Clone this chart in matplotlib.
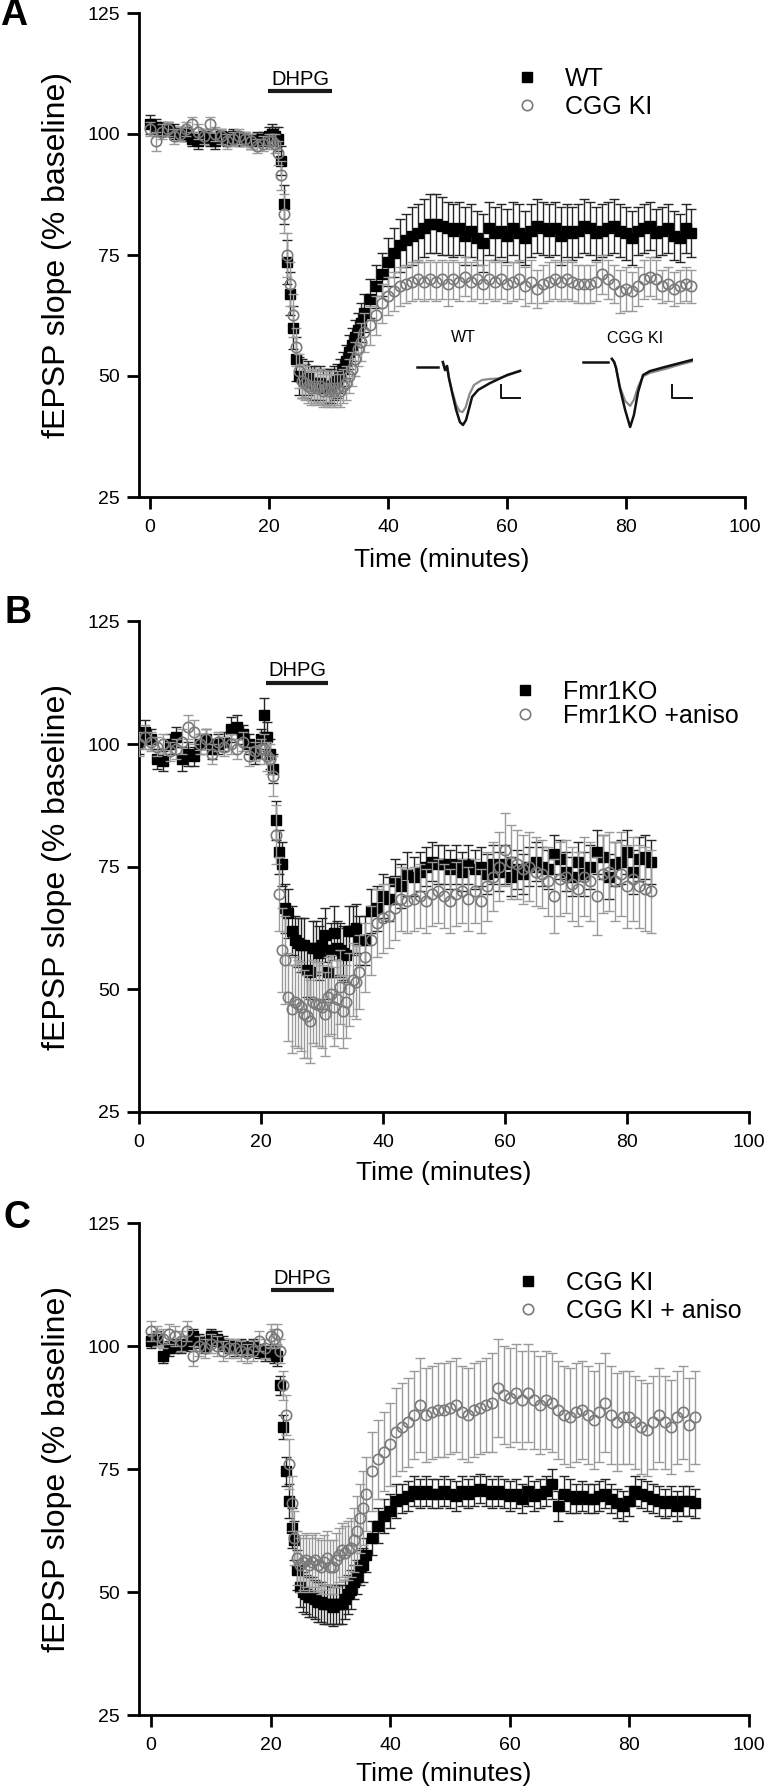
import numpy as np
import matplotlib.pyplot as plt
from matplotlib.lines import Line2D

plt.rcParams['font.family'] = ['Liberation Sans', 'DejaVu Sans']

W, H = 767, 1792

# Zeitpunkte (Minuten): Baseline, DHPG-Phase im 30-s-Raster, Erholung
t_base = np.arange(0, 21, 1.0)
t_drop = np.arange(20.5, 36.5, 0.5)
time_a = np.concatenate([t_base, t_drop, np.arange(37, 92, 1.0)])
time_b = np.concatenate([t_base, t_drop, np.arange(37, 85, 1.0)])
time_c = time_a

# ---------------- Panel A: WT vs CGG KI ----------------
wt_a = [102, 101.5, 101, 101, 100.5, 100, 100, 99, 98.5, 99.5, 99, 98.5, 99.5, 99, 99.5, 99, 99, 98.5, 99, 99, 99.5,
        100, 99.5, 99, 94.5, 85.5, 73.5, 67, 60, 53.5, 50, 49.5, 49, 49.5, 48.5, 48.5, 48, 48.5, 48, 47.5, 48,
        48, 48.5, 49, 50, 51.5, 53, 55, 56.5, 58, 59.5, 61, 63,
        66, 68.5, 71, 73.5, 75.5, 77, 78, 79, 79.5, 80.5, 81.5, 81.5, 81, 80.5, 80, 80.5, 79, 80, 78.5, 77.5,
        80.5, 79.5, 80, 79, 80.5, 79.5, 78.5, 80, 81, 80.5, 80, 80.5, 79, 80, 79.5, 80, 81, 80.5, 79.5, 80,
        80.5, 81, 80, 79.5, 78.5, 80, 80.5, 81, 79.5, 80, 80.5, 79, 78.5, 80.5, 79.5]
wt_a_err = [2, 1.5, 1.5, 1.5, 1.5, 1.5, 1.5, 1.5, 1.5, 1.5,
            1.5, 1.5, 1.5, 1.5, 1.5, 1.5, 1.5, 1.5, 1.5, 1.5,
            2,
            2, 2, 2.5, 3, 4, 4.5, 4.5, 4.5, 4.5, 4,
            4, 3.5, 3.5, 3.5, 3.5, 3.5, 3.5, 3.5, 3.5, 3.5,
            3.5, 3.5, 3.5, 3.5, 3.5, 3.5, 3.5, 3.5, 3.5, 3.5,
            4, 4,
            4, 4.5, 4.5, 5, 5, 5.5, 5.5, 6, 6, 6,
            6, 6, 6, 5.5, 5.5, 5.5, 6, 5.5, 5.5, 6,
            5.5, 5.5, 5.5, 5.5, 5.5, 6, 5.5, 5.5, 5.5, 5.5,
            5.5, 5.5, 6, 5.5, 5.5, 5.5, 5.5, 5.5, 5.5, 5.5,
            5.5, 5.5, 5.5, 5.5, 5.5, 5, 5, 5, 5, 5,
            5, 5, 5, 5, 5]
cgg_a = [101, 98.5, 100.5, 101, 99.5, 100, 101, 102, 100.5, 99.5, 102, 100, 99.5, 98.5, 99, 99.5, 99, 98.5, 97.5,
         98, 98.5,
         98.5, 98, 96, 91.5, 83.5, 75, 69, 62.5, 56, 51, 49, 48.5, 48, 47.5, 48, 47.5, 48, 47, 47.5, 47, 47.5,
         47, 47.5, 47, 48, 48.5, 50, 51.5, 53.5, 55.5, 57, 59,
         60.5, 62.5, 65, 66.5, 67.5, 68.5, 69, 69.5, 70, 69.5, 70, 69.5, 70, 69, 70, 69.5, 70.5, 69.5, 70, 69,
         70, 69.5, 70, 69, 69.5, 70, 68.5, 69.5, 68, 69, 69.5, 70, 69.5, 70, 69.5, 69, 69, 69, 69.5, 71,
         70, 69, 67.5, 68, 67.5, 68.5, 70, 70.5, 70, 68.5, 69, 68, 68.5, 69, 68.5]
cgg_a_err = [1.5, 2, 1.5, 1.5, 1.5, 1.5, 1.5, 1.5, 1.5, 1.5,
             1.5, 1.5, 1.5, 1.5, 1.5, 1.5, 1.5, 1.5, 1.5, 1.5,
             1.5,
             1.5, 2, 2.5, 3, 4, 4.5, 4.5, 4.5, 4, 3.5,
             3.5, 3.5, 3.5, 3.5, 3.5, 3.5, 3.5, 3.5, 3.5, 3.5,
             3.5, 3.5, 3.5, 3.5, 3.5, 3.5, 3.5, 3.5, 3.5, 3.5,
             4, 4,
             4, 4, 4, 4, 4, 4, 4, 4, 4, 4,
             4, 4, 4, 4.5, 4, 4, 4, 4, 4, 4,
             4, 4, 4, 4, 4, 4, 4, 4.5, 4, 4,
             4, 4, 4, 4, 4, 4, 4, 4, 4, 4,
             4, 4, 4.5, 4.5, 4, 4, 4, 4, 4, 3.5,
             3.5, 3.5, 3.5, 3.5, 3.5]

# ---------------- Panel B: Fmr1KO vs Fmr1KO + aniso ----------------
ko_b = [100.5, 102.5, 101, 97, 96.5, 100, 101.5, 97, 98, 97.5, 100, 101, 99, 100, 100.5, 103, 103.5, 102, 100,
        98, 101,
        106, 101.5, 98, 95, 84.5, 78, 75.5, 66.5, 65.5, 62, 60, 59.5, 59, 59, 54, 53.5, 58.5, 58.5, 57.5, 59,
        61, 53.5, 58, 61.5, 58.5, 58, 57.5, 57, 62, 62, 62.5, 60,
        60, 66, 66.5, 69, 68.5, 72, 71, 73.5, 73, 74, 75, 76, 75.5, 75.5, 74.5, 75.5, 74, 75.5, 74.5, 75,
        73.5, 75.5, 74, 75.5, 73, 74.5, 73.5, 75, 76, 75, 74.5, 77.5, 76.5, 74, 73, 76, 73.5, 75, 78, 77,
        73, 75.5, 76, 78, 74, 76.5, 77, 76]
ko_b_err = [2.5, 2.5, 2, 2, 2, 2, 2, 2.5, 2.5, 2,
            2, 2, 2, 2, 2, 2.5, 2.5, 2, 2, 2,
            2,
            3.5, 3, 3, 3, 4, 4.5, 4.5, 5, 5, 5,
            5, 5, 5.5, 5.5, 5.5, 5.5, 5.5, 5.5, 5.5, 5.5,
            5.5, 5.5, 5.5, 5.5, 5.5, 5.5, 5.5, 5.5, 5, 5,
            5, 5,
            5, 4.5, 4.5, 4.5, 4.5, 4.5, 4.5, 4.5, 4, 4,
            4, 4, 4, 4, 4, 4, 4, 4, 4, 4,
            4, 4, 4, 4, 4, 4, 4, 4, 4, 4,
            4, 4, 4, 4, 4, 4, 4.5, 4.5, 4.5, 4.5,
            4.5, 4.5, 4.5, 4.5, 4.5, 4.5, 4.5, 4.5]
aniso_b = [100, 101.5, 100.5, 99.5, 100, 98.5, 99, 100.5, 103.5, 102.5, 100, 101, 98, 100.5, 99.5, 100, 99,
           100.5, 97.5, 98.5, 99,
           99, 97.5, 97, 93.5, 81.5, 69.5, 58, 56, 48.5, 46, 47.5, 47, 46.5, 45, 44.5, 43.5, 47.5, 47, 47,
           46.5, 45, 48.5, 49, 46.5, 48, 50.5, 45.5, 47.5, 50, 52, 51.5, 53.5,
           56.5, 60, 63.5, 64.5, 65, 66.5, 68.5, 68, 68.5, 69, 68, 69.5, 70, 69, 68, 69.5, 70, 68.5, 70, 68,
           71, 73, 75, 78.5, 76, 75.5, 74.5, 75, 74, 73.5, 72, 69, 72.5, 73, 71.5, 70.5, 73, 72, 69, 73.5,
           74, 72, 73.5, 71, 72.5, 71, 70.5, 70]
aniso_b_err = [2.5, 2.5, 2, 2, 2, 2, 2, 2.5, 2.5, 2.5,
               2, 2, 2, 2, 2, 2, 2, 2, 2, 2,
               2,
               3, 3, 3, 4, 6, 7.5, 8.5, 9, 9, 9,
               9, 9, 9, 9, 8.5, 8.5, 8.5, 8.5, 8.5, 8.5,
               8.5, 8, 8, 8, 8, 7.5, 7.5, 7.5, 7.5, 7.5,
               7.5, 7.5,
               7, 7, 7, 7, 6.5, 6.5, 6.5, 6.5, 6.5, 6.5,
               6.5, 6.5, 6.5, 6.5, 6.5, 6.5, 6.5, 6.5, 6.5, 6.5,
               7, 7, 7, 7.5, 7.5, 7, 7, 7, 7, 7,
               7, 7.5, 7.5, 7.5, 7.5, 7.5, 8, 8, 8, 8,
               8, 8, 8.5, 8.5, 8.5, 8.5, 8.5, 8.5]

# ---------------- Panel C: CGG KI vs CGG KI + aniso ----------------
cgg_c = [101, 101.5, 98, 99.5, 100, 100, 100.5, 102, 101, 100, 102, 101.5, 100.5, 100, 99.5, 100, 99.5, 100, 99,
         98.5, 98.5,
         98.5, 98, 92, 83.5, 74.5, 68.5, 63, 60.5, 54.5, 51, 50, 49.5, 49, 49, 48.5, 48, 48, 47.5, 47.5, 47.5,
         47, 47.5, 47.5, 47.5, 48.5, 49.5, 50.5, 52, 53, 55, 55.5, 57.5,
         61, 63.5, 65.5, 66.5, 68.5, 69, 69.5, 70.5, 70, 70.5, 70, 70, 70.5, 70, 69.5, 70.5, 70, 70.5, 71, 70.5,
         70, 70.5, 70, 69.5, 70, 69, 70.5, 69.5, 70, 70.5, 72, 67.5, 70, 69.5, 69, 69.5, 69, 69, 69.5, 70,
         69, 68, 67.5, 68.5, 70.5, 70, 69.5, 69, 68.5, 68, 68.5, 67.5, 68.5, 68.5, 68]
cgg_c_err = [1.5, 1.5, 1.5, 1.5, 1.5, 1.5, 1.5, 1.5, 1.5, 1.5,
             1.5, 1.5, 1.5, 1.5, 1.5, 1.5, 1.5, 1.5, 1.5, 1.5,
             1.5,
             2, 2, 2, 2.5, 3, 3.5, 4, 4, 4, 4,
             4, 4, 4, 4, 4, 4, 4, 4, 4, 4,
             4, 4, 4, 4, 4, 4, 4, 3.5, 3.5, 3.5,
             3.5, 3.5,
             3.5, 3.5, 3.5, 3.5, 3.5, 3, 3, 3, 3, 3,
             3, 3, 3, 3, 3, 3, 3, 3, 3, 3,
             3, 3, 3, 3, 3, 3, 3, 3, 3, 3,
             3, 3, 3.5, 3.5, 3, 3, 3, 3, 3, 3,
             3, 3, 3, 3, 3, 3, 3, 3, 3, 3,
             3, 3, 3, 3, 3]
aniso_c = [103, 102, 101.5, 102.5, 102, 101, 103, 98, 100, 99.5, 100.5, 100, 99, 99.5, 99.5, 99, 98.5, 99, 101,
           99.5, 102,
           101.5, 102.5, 99, 92, 86, 76, 68, 61, 57, 55.5, 56, 56.5, 55.5, 56, 56.5, 55.5, 55, 56, 57, 55, 55,
           56.5, 57.5, 58.5, 58, 58.5, 59, 60.5, 62.5, 65, 67, 70,
           74.5, 77, 78.5, 80, 82.5, 83.5, 84.5, 86, 88, 86, 86.5, 87, 87, 87.5, 88, 86.5, 86, 87, 87.5, 88,
           88.5, 91.5, 90, 89.5, 90.5, 89, 90.5, 89, 88, 89, 88.5, 87, 86, 85.5, 86.5, 87, 86, 85, 86.5, 88.5,
           86, 84.5, 85.5, 85.5, 84.5, 83.5, 83, 84.5, 86, 84.5, 83.5, 85.5, 86.5, 84, 85.5]
aniso_c_err = [2, 2, 2, 2, 2, 2, 2, 2, 2, 2,
               2, 2, 2, 2, 2, 2, 2, 2, 2, 2,
               2.5,
               2, 2, 2.5, 3, 4, 5, 5.5, 5.5, 5.5, 5.5,
               5.5, 5.5, 5.5, 5.5, 5.5, 5.5, 5.5, 5.5, 5.5, 5.5,
               5.5, 5.5, 5.5, 5.5, 5.5, 6, 6, 6.5, 7, 7,
               7.5, 7.5,
               8, 8, 8, 8.5, 9, 9, 9, 9, 9.5, 9.5,
               9.5, 9.5, 9.5, 9.5, 9.5, 9.5, 9.5, 9.5, 9.5, 9.5,
               10, 10, 10, 10, 10, 10, 10, 10, 10, 10,
               10, 10, 10, 10, 10, 10, 10, 10, 10, 10,
               10, 10, 9.5, 9.5, 9.5, 9.5, 9.5, 9.5, 9.5, 9.5,
               9.5, 9.5, 9.5, 9.5, 9.5]

# DHPG-Balken: Beginn, Ende (min), Höhe (% baseline)
dhpg_a = [19.8, 30.6, 108.9]
dhpg_b = [20.8, 31.0, 112.5]
dhpg_c = [20.0, 30.6, 111.4]

# Beispielspuren (Inset in A): Zeit in ms, Amplitude in mV
base_t = [0, 5.5]
base_v = [0, 0]
wt_t = [6.8, 7.4, 7.9, 8.4, 9.2, 10.3, 11.3, 12.1, 12.9, 13.7, 14.5, 16.1, 19.2, 23.7, 27.1]
wt_black = [0.19, -0.12, 0.04, -0.42, -0.96, -1.65, -2.12, -2.23, -2.04, -1.6, -1.15, -0.88, -0.62, -0.31, -0.15]
wt_gray_t = [6.8, 7.4, 7.9, 8.4, 9.2, 10.3, 11.2, 12.0, 12.8, 13.8, 15.0, 17.1, 19.2, 21.5, 23.7, 27.1]
wt_gray = [0.19, -0.12, 0.04, -0.42, -0.9, -1.45, -1.7, -1.73, -1.55, -1.05, -0.69, -0.5, -0.46, -0.44, -0.33,
           -0.15]
ki_base_t = [0, 6.6]
ki_t = [7.6, 8.2, 8.7, 9.7, 11.1, 12.4, 13.4, 14.5, 15.8, 17.6, 21.6, 25.5, 28.7]
ki_black = [0.12, 0, -0.23, -1.0, -1.85, -2.5, -2.04, -1.15, -0.5, -0.35, -0.19, -0.04, 0.08]
ki_gray = [0.12, 0, -0.23, -0.95, -1.5, -1.69, -1.45, -0.95, -0.55, -0.42, -0.27, -0.1, 0.02]

for arr_t, arrs in [(time_a, [wt_a, wt_a_err, cgg_a, cgg_a_err]),
                    (time_b, [ko_b, ko_b_err, aniso_b, aniso_b_err]),
                    (time_c, [cgg_c, cgg_c_err, aniso_c, aniso_c_err])]:
    for a in arrs:
        assert len(a) == len(arr_t), (len(a), len(arr_t))

fig = plt.figure(figsize=(W / 100, H / 100), dpi=100)


def px_rect(left, top, right, bottom):
    return [left / W, 1 - bottom / H, (right - left) / W, (bottom - top) / H]


def panel(rect, xmin, t, sq, sq_err, ci, ci_err, labels, dhpg, leg_xy, leg_sp, xlab_y, ylab_x):
    ax = fig.add_axes(rect)
    ax.errorbar(t, sq, yerr=sq_err, fmt='none', ecolor='#262626', elinewidth=1.0,
                capsize=3.5, capthick=1.0, zorder=2)
    ax.plot(t, sq, 's', color='black', ms=7.5, zorder=3)
    ax.errorbar(t, ci, yerr=ci_err, fmt='none', ecolor='#9a9a9a', elinewidth=1.0,
                capsize=3.5, capthick=1.0, zorder=4)
    ax.plot(t, ci, 'o', mfc='none', mec='#7a7a7a', mew=1.2, ms=7.5, zorder=5)

    ax.set_xlim(xmin, 100)
    ax.set_ylim(25, 125)
    ax.set_xticks(range(0, 101, 20))
    ax.set_yticks([25, 50, 75, 100, 125])
    for s in ['top', 'right']:
        ax.spines[s].set_visible(False)
    for s in ['left', 'bottom']:
        ax.spines[s].set_linewidth(2.0)
    ax.tick_params(axis='both', width=2.0, length=8.6, labelsize=14)
    ax.tick_params(axis='x', pad=7)
    ax.tick_params(axis='y', pad=5)

    ax.set_xlabel('Time (minutes)', fontsize=19)
    ax.xaxis.set_label_coords(0.5, xlab_y)
    ax.set_ylabel('fEPSP slope (% baseline)', fontsize=23)
    ax.yaxis.set_label_coords(ylab_x, 0.5)

    # DHPG-Applikation
    ax.plot(dhpg[:2], [dhpg[2], dhpg[2]], color='#1a1a1a', lw=3, solid_capstyle='butt')
    ax.text((dhpg[0] + dhpg[1]) / 2, dhpg[2] + 1.3, 'DHPG', ha='center', va='baseline', fontsize=14.5)

    handles = [Line2D([], [], marker='s', ls='none', color='black', ms=7.5),
               Line2D([], [], marker='o', ls='none', mfc='none', mec='#7a7a7a', mew=1.2, ms=7.5)]
    ax.legend(handles, labels, loc='upper left', bbox_to_anchor=leg_xy, frameon=False, fontsize=18,
              handlelength=1.0, handletextpad=1.0, labelspacing=leg_sp, borderpad=0, borderaxespad=0)
    return ax


ax_a = panel(px_rect(139, 13, 745, 497), -1.85, time_a, wt_a, wt_a_err, cgg_a, cgg_a_err,
             ['WT', 'CGG KI'], dhpg_a, (0.62, 0.888), 0.16, -0.105, -0.110)
ax_b = panel(px_rect(139, 621.5, 749, 1112), 0, time_b, ko_b, ko_b_err, aniso_b, aniso_b_err,
             ['Fmr1KO', 'Fmr1KO +aniso'], dhpg_b, (0.613, 0.881), 0.0, -0.10, -0.110)
ax_c = panel(px_rect(139, 1223, 749, 1715), -2.0, time_c, cgg_c, cgg_c_err, aniso_c, aniso_c_err,
             ['CGG KI', 'CGG KI + aniso'], dhpg_c, (0.618, 0.902), 0.16, -0.095, -0.110)

# Panelbuchstaben
for letter, (x, y) in zip('ABC', [(14, 15), (18, 613), (17, 1218)]):
    fig.text(x / W, 1 - y / H, letter, fontsize=27, fontweight='bold', ha='center', va='center')

# Inset mit Beispielspuren
ins_wt = fig.add_axes(px_rect(409.4, 354, 527.2, 434.6))
ins_ki = fig.add_axes(px_rect(575.4, 349, 693.2, 429.6))
for ins in (ins_wt, ins_ki):
    ins.set_xlim(-2, 29)
    ins.set_ylim(-2.6, 0.5)
    ins.axis('off')

ins_wt.plot(base_t, base_v, color='#111111', lw=1.8)
ins_wt.plot(wt_gray_t, wt_gray, color='#8a8a8a', lw=1.6)
ins_wt.plot(wt_t, wt_black, color='#111111', lw=1.8)
ins_wt.plot([22.1, 22.1, 27.1], [-0.69, -1.19, -1.19], color='#111111', lw=1.4)
ins_wt.text(12.1, 1.12, 'WT', ha='center', va='center', fontsize=11.5, clip_on=False)

ins_ki.plot(ki_base_t, base_v, color='#111111', lw=1.8)
ins_ki.plot(ki_t, ki_gray, color='#8a8a8a', lw=1.6)
ins_ki.plot(ki_t, ki_black, color='#111111', lw=1.8)
ins_ki.plot([23.4, 23.4, 28.7], [-0.88, -1.38, -1.38], color='#111111', lw=1.4)
ins_ki.text(13.7, 0.92, 'CGG KI', ha='center', va='center', fontsize=11.5, clip_on=False)

fig.savefig('out.png', dpi=100)
